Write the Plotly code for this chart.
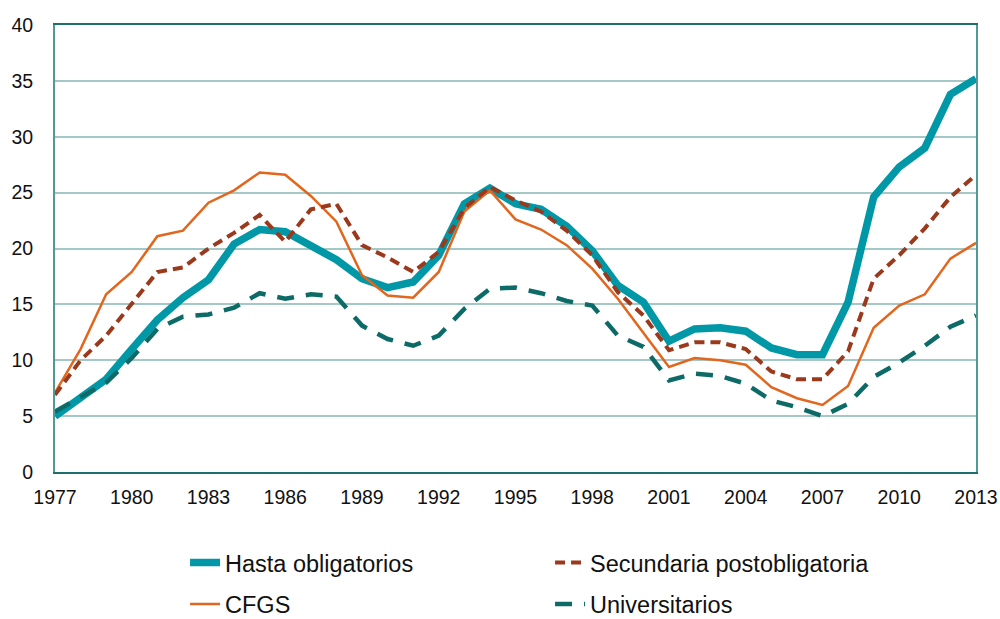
import plotly.graph_objects as go

years = list(range(1977, 2014))

hasta_obligatorios = [5.0, 6.6, 8.3, 11.0, 13.6, 15.6, 17.2, 20.4, 21.7, 21.5, 20.3, 19.0,
                      17.3, 16.5, 17.0, 19.4, 24.0, 25.4, 24.0, 23.5, 22.0, 19.8, 16.7, 15.2,
                      11.7, 12.8, 12.9, 12.6, 11.1, 10.5, 10.5, 15.2, 24.6, 27.3, 29.0, 33.8, 35.2]

secundaria_post = [6.9, 10.0, 12.2, 15.0, 17.9, 18.3, 20.0, 21.4, 23.0, 20.6, 23.5, 24.0,
                   20.3, 19.2, 17.9, 19.7, 23.6, 25.5, 24.3, 23.3, 21.6, 19.4, 16.1, 14.0,
                   10.9, 11.6, 11.6, 11.0, 9.0, 8.3, 8.3, 10.8, 17.3, 19.4, 21.8, 24.6, 26.6]

cfgs = [7.1, 11.0, 15.9, 17.9, 21.1, 21.6, 24.1, 25.2, 26.8, 26.6, 24.7, 22.4,
        17.6, 15.8, 15.6, 17.9, 23.3, 25.2, 22.6, 21.7, 20.3, 18.2, 15.5, 12.5,
        9.4, 10.2, 10.0, 9.6, 7.6, 6.6, 6.0, 7.7, 12.9, 14.9, 15.9, 19.1, 20.5]

universitarios = [5.4, 6.7, 8.0, 10.2, 12.8, 13.9, 14.1, 14.7, 16.0, 15.5, 15.9, 15.7,
                  13.1, 11.9, 11.3, 12.2, 14.6, 16.4, 16.5, 16.0, 15.3, 14.9, 12.2, 11.2,
                  8.2, 8.8, 8.6, 7.9, 6.4, 5.8, 5.0, 6.1, 8.5, 9.8, 11.3, 13.0, 14.0]

x_ticks = list(range(1977, 2014, 3))
y_ticks = list(range(0, 45, 5))

FONT = "Liberation Sans"
TXT = "#111111"

fig = go.Figure()
fig.add_trace(go.Scatter(x=years, y=hasta_obligatorios, mode="lines", name="Hasta obligatorios",
                         line=dict(color="#0097a7", width=7.5), legend="legend"))
fig.add_trace(go.Scatter(x=years, y=cfgs, mode="lines", name="CFGS",
                         line=dict(color="#e2661d", width=2.5), legend="legend2"))
fig.add_trace(go.Scatter(x=years, y=secundaria_post, mode="lines", name="Secundaria postobligatoria",
                         line=dict(color="#9b391d", width=4, dash="10px,6px"), legend="legend"))
fig.add_trace(go.Scatter(x=years, y=universitarios, mode="lines", name="Universitarios",
                         line=dict(color="#0d6b67", width=4.5, dash="17px,12px"), legend="legend2"))

legend_common = dict(orientation="h", xanchor="left", yanchor="middle", x=0.1412,
                     entrywidth=320, entrywidthmode="pixels", bgcolor="rgba(0,0,0,0)",
                     font=dict(family=FONT, size=23.5, color=TXT), traceorder="normal")

fig.update_layout(
    width=1000, height=619,
    margin=dict(l=55, r=24, t=25, b=147, autoexpand=False),
    paper_bgcolor="white", plot_bgcolor="white",
    font=dict(family=FONT, size=19, color=TXT),
    legend=dict(y=-0.203, **legend_common),
    legend2=dict(y=-0.296, **legend_common),
    xaxis=dict(range=[1977, 2013], tickmode="array", tickvals=x_ticks,
               ticktext=[str(v) for v in x_ticks], showgrid=False, zeroline=False,
               showline=True, linecolor="#1f6f6c", linewidth=2, mirror=True,
               ticks="", ticklabelstandoff=7, automargin=False,
               tickfont=dict(family=FONT, size=19.5, color=TXT)),
    yaxis=dict(range=[0, 40], tickmode="array", tickvals=y_ticks, showgrid=True,
               gridcolor="#a3c8c6", gridwidth=1.5, zeroline=False,
               showline=True, linecolor="#4f9a97", linewidth=2, mirror=True,
               ticks="", ticklabelstandoff=16, automargin=False,
               tickfont=dict(family=FONT, size=19.5, color=TXT)),
)

fig.write_html("out.html", config={"displayModeBar": False},
               post_script="document.body.style.margin='0';document.body.style.overflow='hidden';")
